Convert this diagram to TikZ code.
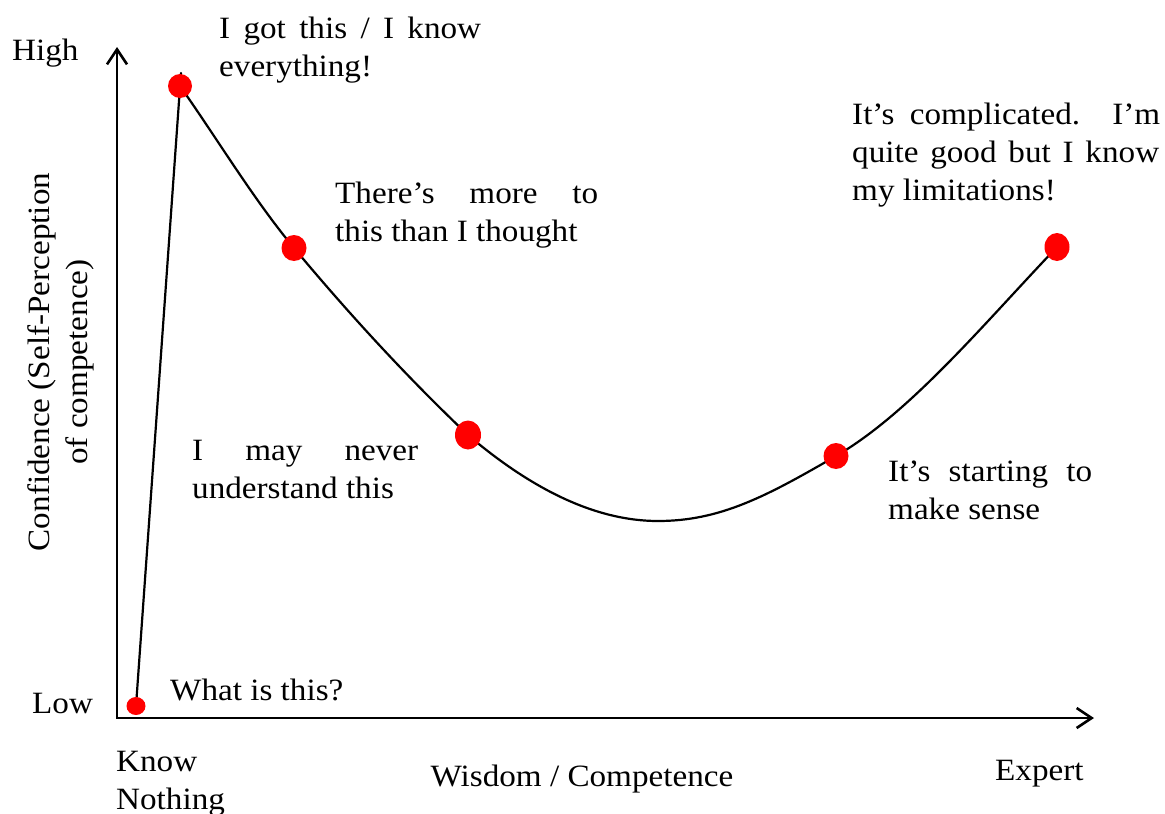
\documentclass[tikz,border=0pt]{standalone}
\usepackage{fontspec}
\setmainfont{Liberation Serif}[FakeStretch=1.07]
\usetikzlibrary{arrows.meta,shapes.geometric,backgrounds}

\begin{document}
\begin{tikzpicture}[x=1pt,y=-1pt,
  % multi-line captions are placed by the baseline of their last line
  txt/.style={font=\fontsize{31}{38}\selectfont, inner sep=0pt, anchor=base west, align=left},
  dot/.style 2 args={ellipse, fill=red, draw=none, inner sep=0pt,
                     minimum width=#1pt, minimum height=#2pt},
  axis/.style={line width=2.6pt, line join=miter,
               {Straight Barb[length=15pt,width=20pt]}-{Straight Barb[length=15pt,width=20pt]}},
  curve/.style={line width=2.2pt, line cap=round}]

\useasboundingbox (0,0) rectangle (1165,814);

% axes
\coordinate (ytip) at (117,47);
\coordinate (origin) at (117,718);
\coordinate (xtip) at (1094,718);

% stage markers
\node[dot={19}{18}] (p0) at (136,706) {};
\node[dot={24}{24}] (p1) at (180,86) {};
\node[dot={25}{26}] (p2) at (294,248) {};
\node[dot={26}{29}] (p3) at (468,435) {};
\node[dot={25}{26}] (p4) at (836,456) {};
\node[dot={25}{28}] (p5) at (1057,247) {};
\coordinate (dip) at (658,521);
\coordinate (stub) at (181,73);

\begin{scope}[on background layer]
  \fill[white] (0,0) rectangle (1165,814);
  \draw[axis] (ytip) -- (origin) -- (xtip);
  \draw[curve] (p0.center) -- (stub);
  \draw[curve] (p1.center) .. controls (218,140) and (254,200) .. (p2.center)
                          .. controls (352,317.6) and (410,379.9) .. (p3.center)
                          .. controls (531,488.6) and (595,521) .. (dip)
                          .. controls (720,521) and (766,496.6) .. (p4.center)
                          .. controls (910,413) and (983,324.7) .. (p5.center);
\end{scope}

% axis labels
\node[txt] (high) at (12,60) {High};
\node[txt] (low) at (32,713) {Low};
\node[txt] (know) at (116,809) {Know\\Nothing};
\node[txt, anchor=base] (wisdom) at (582,786) {Wisdom / Competence};
\node[txt] (expert) at (995,780) {Expert};
\node[txt, rotate=90, anchor=base, align=center] (ylab) at (87,362)
  {Confidence (Self-Perception\\of competence)};

% stage captions
\node[txt] (t1) at (219,76) {\makebox[262pt][s]{I got this / I know}\\everything!};
\node[txt] (t2) at (335,241.5) {\makebox[263pt][s]{There’s more to}\\this than I thought};
\node[txt] (t3) at (192,498.5) {\makebox[226pt][s]{I may never}\\understand this};
\node[txt] (t0) at (170,700) {What is this?};
\node[txt] (t5) at (852,200) {\makebox[308pt][s]{It’s complicated. I’m}\\\makebox[307pt][s]{quite good but I know}\\my limitations!};
\node[txt] (t4) at (888,519) {\makebox[204pt][s]{It’s starting to}\\make sense};

\end{tikzpicture}
\end{document}
